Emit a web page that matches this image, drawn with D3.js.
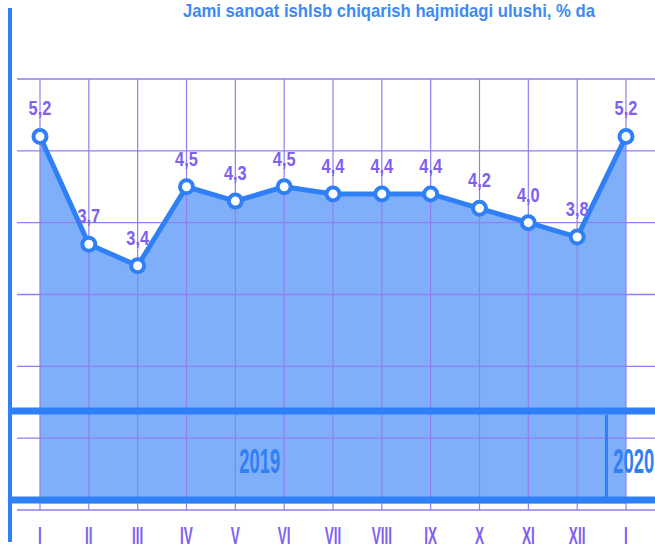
<!DOCTYPE html>
<html>
<head>
<meta charset="utf-8">
<script src="https://cdn.jsdelivr.net/npm/d3@7/dist/d3.min.js"></script>
<style>
  html, body { margin: 0; padding: 0; background: #fff; }
  svg { display: block; }
  .narrow { font-family: "Liberation Sans", Arial, sans-serif; font-weight: bold; }
</style>
</head>
<body>
<div id="chart"></div>
<script>
const title = 'Jami sanoat ishlsb chiqarish hajmidagi ulushi, % da';
const months = ['I', 'II', 'III', 'IV', 'V', 'VI', 'VII', 'VIII', 'IX', 'X', 'XI', 'XII', 'I'];
const values = [5.2, 3.7, 3.4, 4.5, 4.3, 4.5, 4.4, 4.4, 4.4, 4.2, 4.0, 3.8, 5.2];
const valueLabels = ['5,2', '3,7', '3,4', '4,5', '4,3', '4,5', '4,4', '4,4', '4,4', '4,2', '4,0', '3,8', '5,2'];
const gridTicks = [0, 1, 2, 3, 4, 5, 6];
const years = [{ label: '2019', at: 4.5, anchor: 'middle' }, { label: '2020', at: 11.74, anchor: 'start' }];

const W = 655, H = 549;
const LINE = '#2f80f6', FILL = '#80aff9', GRID = '#917ef2', PURPLE = '#7f61ef';

const svg = d3.select('#chart').append('svg').attr('width', W).attr('height', H);

const x = d3.scaleLinear().domain([0, months.length - 1]).range([40, 626]);
const y = d3.scaleLinear().domain([0, 6]).range([510, 79]);

const bandTop = 411, bandBottom = 500, bandW = 7;

// area under line
const area = d3.area().x((d, i) => x(i)).y0(bandBottom + bandW / 2).y1(d => y(d));
svg.append('path').datum(values).attr('d', area).attr('fill', FILL);

// grid
svg.append('g').selectAll('line').data(gridTicks).enter().append('line')
  .attr('x1', 17).attr('x2', W).attr('y1', d => y(d)).attr('y2', d => y(d))
  .attr('stroke', GRID).attr('stroke-width', 1.4);
svg.append('g').selectAll('line').data(months).enter().append('line')
  .attr('x1', (d, i) => x(i)).attr('x2', (d, i) => x(i))
  .attr('y1', y(6)).attr('y2', y(0))
  .attr('stroke', GRID).attr('stroke-width', 1.2);

// left axis bar
svg.append('line').attr('x1', 10).attr('x2', 10).attr('y1', 8).attr('y2', 542)
  .attr('stroke', LINE).attr('stroke-width', 4);

// year bands
[bandTop, bandBottom].forEach(by => {
  svg.append('line').attr('x1', 8).attr('x2', W).attr('y1', by).attr('y2', by)
    .attr('stroke', LINE).attr('stroke-width', bandW);
});
svg.append('line').attr('x1', x(11.6)).attr('x2', x(11.6))
  .attr('y1', bandTop + 4).attr('y2', bandBottom - 2)
  .attr('stroke', LINE).attr('stroke-width', 3);

years.forEach(yr => {
  svg.append('text').attr('class', 'narrow')
    .attr('transform', `translate(${x(yr.at)},${473}) scale(0.8,1.55)`)
    .attr('text-anchor', yr.anchor).attr('font-size', 23)
    .attr('fill', LINE).text(yr.label);
});

// line + markers
const line = d3.line().x((d, i) => x(i)).y(d => y(d));
svg.append('path').datum(values).attr('d', line)
  .attr('fill', 'none').attr('stroke', LINE).attr('stroke-width', 5).attr('stroke-linejoin', 'round');
svg.append('g').selectAll('circle').data(values).enter().append('circle')
  .attr('cx', (d, i) => x(i)).attr('cy', d => y(d)).attr('r', 6.5)
  .attr('fill', '#fff').attr('stroke', LINE).attr('stroke-width', 4);

// value labels
svg.append('g').selectAll('text').data(values).enter().append('text')
  .attr('class', 'narrow')
  .attr('transform', (d, i) => `translate(${x(i)},${y(d) - 21}) scale(0.82,1.05)`)
  .attr('text-anchor', 'middle').attr('font-size', 20)
  .attr('fill', PURPLE).text((d, i) => valueLabels[i]);

// month labels
svg.append('g').selectAll('text').data(months).enter().append('text')
  .attr('class', 'narrow')
  .attr('transform', (d, i) => `translate(${x(i)},${544}) scale(0.8,1.4)`)
  .attr('text-anchor', 'middle').attr('font-size', 17)
  .attr('fill', PURPLE).text(d => d);

// title
svg.append('text').attr('class', 'narrow')
  .attr('x', 183).attr('y', 17).attr('font-size', 19)
  .attr('textLength', 412).attr('lengthAdjust', 'spacingAndGlyphs')
  .attr('fill', '#3d8af6').text(title);
</script>
</body>
</html>
